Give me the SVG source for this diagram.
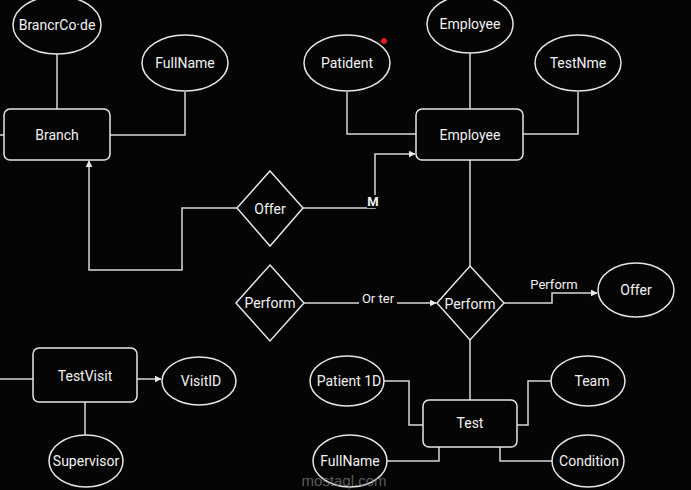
<svg xmlns="http://www.w3.org/2000/svg" width="691" height="490" viewBox="0 0 691 490">
<defs>
<marker id="ah" viewBox="0 0 10 10" refX="9" refY="5" markerWidth="7" markerHeight="7" orient="auto" markerUnits="userSpaceOnUse"><path d="M0,0 L10,5 L0,10 z" fill="#e8e8e8"/></marker>
</defs>
<style>
.bg{fill:#050505}
.sh{fill:#050505;stroke:#e6e6e6;stroke-width:1.5}
.ln{fill:none;stroke:#d8d8d8;stroke-width:1.5}
.t{font-family:Roboto,"Liberation Sans",sans-serif;font-size:14px;fill:#f2f2f2;text-anchor:middle;dominant-baseline:central}
.lb{font-family:Roboto,"Liberation Sans",sans-serif;font-size:13px;fill:#f2f2f2;text-anchor:middle}
.wm{font-family:"Liberation Sans",sans-serif;font-size:15px;fill:#7a7a7a;fill-opacity:0.75;text-anchor:middle}
</style>
<rect class="bg" x="0" y="0" width="691" height="490"/>
<g id="connectors">
<path class="ln" d="M0,135 H4"/>
<path class="ln" d="M57,54 V109"/>
<path class="ln" d="M185,92 V135 H110"/>
<path class="ln" d="M347,92 V134 H416"/>
<path class="ln" d="M470,53 V109"/>
<path class="ln" d="M578,92 V134 H523"/>
<path class="ln" d="M303,208 H375 V154 H415" marker-end="url(#ah)"/>
<path class="ln" d="M237,208 H182 V270 H89 V161" marker-end="url(#ah)"/>
<path class="ln" d="M470,160 V266"/>
<path class="ln" d="M304,303 H436" marker-end="url(#ah)"/>
<path class="ln" d="M504,303 H552 V293 H597" marker-end="url(#ah)"/>
<path class="ln" d="M470,340 V400"/>
<path class="ln" d="M0,379 H33"/>
<path class="ln" d="M137,379 H161" marker-end="url(#ah)"/>
<path class="ln" d="M85,402 V435"/>
<path class="ln" d="M384,381 H409 V425 H423"/>
<path class="ln" d="M551,381 H528 V425 H517"/>
<path class="ln" d="M387,461 H439 V447"/>
<path class="ln" d="M552,461 H500 V447"/>
<rect class="bg" x="367" y="195" width="13" height="13"/>
<text class="lb" x="373" y="206" font-weight="bold" font-size="11">M</text>
<rect class="bg" x="359" y="292" width="38" height="14"/>
<text class="lb" x="378" y="303">Or ter</text>
<text class="lb" x="554" y="289">Perform</text>
</g>
<g id="branchcode"><ellipse class="sh" cx="57" cy="25" rx="44" ry="29"/><text class="t" x="57" y="25">BrancrCo·de</text></g>
<g id="fullname1"><ellipse class="sh" cx="185" cy="63" rx="43" ry="28"/><text class="t" x="185" y="63">FullName</text></g>
<g id="branch"><rect class="sh" x="4" y="109" width="106" height="51" rx="6"/><text class="t" x="57" y="135">Branch</text></g>
<g id="patident"><ellipse class="sh" cx="347" cy="63" rx="43" ry="28"/><text class="t" x="347" y="63">Patident</text><circle cx="384" cy="41" r="3" fill="#e01e1e"/></g>
<g id="employee-attr"><ellipse class="sh" cx="470" cy="24" rx="43" ry="29"/><text class="t" x="470" y="24">Employee</text></g>
<g id="testnme"><ellipse class="sh" cx="578" cy="63" rx="43" ry="28"/><text class="t" x="578" y="63">TestNme</text></g>
<g id="employee"><rect class="sh" x="416" y="109" width="107" height="51" rx="6"/><text class="t" x="470" y="135">Employee</text></g>
<g id="offer-rel"><polygon class="sh" points="270,171 303,208 270,246 237,208"/><text class="t" x="270" y="209">Offer</text></g>
<g id="perform1"><polygon class="sh" points="270,265 304,303 270,341 236,303"/><text class="t" x="270" y="303">Perform</text></g>
<g id="perform2"><polygon class="sh" points="470,266 504,303 470,340 437,303"/><text class="t" x="470" y="304">Perform</text></g>
<g id="offer-attr"><ellipse class="sh" cx="636" cy="290" rx="38" ry="27"/><text class="t" x="636" y="290">Offer</text></g>
<g id="testvisit"><rect class="sh" x="33" y="348" width="104" height="54" rx="6"/><text class="t" x="85" y="376">TestVisit</text></g>
<g id="visitid"><ellipse class="sh" cx="199" cy="381" rx="37" ry="24"/><text class="t" x="201" y="381">VisitID</text></g>
<g id="supervisor"><ellipse class="sh" cx="86" cy="461" rx="37" ry="26"/><text class="t" x="86" y="461">Supervisor</text></g>
<g id="patient1d"><ellipse class="sh" cx="347" cy="381" rx="37" ry="25"/><text class="t" x="349" y="381">Patient 1D</text></g>
<g id="team"><ellipse class="sh" cx="588" cy="381" rx="37" ry="25"/><text class="t" x="592" y="381">Team</text></g>
<g id="test"><rect class="sh" x="423" y="400" width="94" height="47" rx="6"/><text class="t" x="470" y="423">Test</text></g>
<g id="fullname2"><ellipse class="sh" cx="350" cy="461" rx="37" ry="26"/><text class="t" x="350" y="461">FullName</text></g>
<g id="condition"><ellipse class="sh" cx="588" cy="461" rx="36" ry="26"/><text class="t" x="589" y="461">Condition</text></g>
<text class="wm" x="344" y="486">mostaql.com</text>
</svg>
